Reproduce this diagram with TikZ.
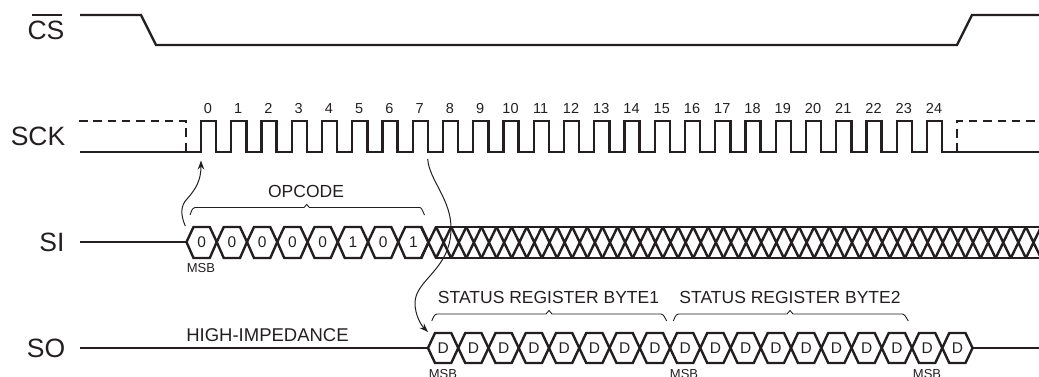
\documentclass[tikz,border=0pt]{standalone}
\usepackage{fontspec}
\setmainfont{Liberation Sans}
\usetikzlibrary{arrows.meta}
\definecolor{ink}{HTML}{231F20}
\newcommand{\fsz}[1]{\fontsize{#1pt}{#1pt}\selectfont}
\tikzset{
  wave/.style={draw=ink,line width=2.4pt,line join=miter},
  dashwave/.style={wave,dash pattern=on 8.5pt off 5.8pt},
  bracket/.style={draw=ink,line width=0.9pt},
  flow/.style={draw=ink,line width=1pt,-{Stealth[length=9pt,width=6.5pt]}},
  lab/.style={text=ink,inner sep=0pt,anchor=center},
  sig/.style={lab,font=\fsz{26.5}},
  clk/.style={lab,font=\fsz{14.5}},
  bit/.style={lab,font=\fsz{15.5}},
  msb/.style={lab,font=\fsz{13}},
  captxt/.style={lab,font=\fsz{17.5}}
}
\begin{document}
\begin{tikzpicture}[x=1pt,y=-1pt]
\useasboundingbox (0,0) rectangle (1039,377);
% labels
\node[sig] (lcs) at (46,30) {CS};
\draw[draw=ink,line width=1.3pt] (32,15) -- (62,15);
\node[sig] (lsck) at (38,136.5) {SCK};
\node[sig] (lsi) at (52,242) {SI};
\node[sig] (lso) at (46,348) {SO};
% CS
\draw[wave] (80,15) -- (141,15) -- (156,45) -- (957,45) -- (972,15) -- (1039,15);
% SCK
\draw[wave] (80,152) -- (201,152)
 \foreach \i in {0,...,24}{ -- ({201+30.25*\i},121) -- ({201+30.25*\i+15.12},121) -- ({201+30.25*\i+15.12},152) -- ({201+30.25*(\i+1)},152) } ;
\draw[dashwave] (79,121) -- (186,121) -- (186,152);
\draw[dashwave] (957,152) -- (957,121) -- (1039,121);
\draw[wave] (957,152) -- (1039,152);
% clock numbers
\foreach \i in {0,...,24}{ \node[clk] (n\i) at ({208+30.25*\i},108.5) {\i}; }
% SI
\draw[wave] (80,242) -- (186.5,242);
\foreach \i/\b in {0/0,1/0,2/0,3/0,4/0,5/1,6/0,7/1}{
  \pgfmathsetmacro{\xa}{186.5+30.25*\i}
  \pgfmathsetmacro{\xb}{\xa+30.25}
  \draw[wave] (\xa,242) -- (\xa+7,227) -- (\xb-7,227) -- (\xb,242) -- (\xb-7,258) -- (\xa+7,258) -- cycle;
  \node[bit] (si\i) at ({(\xa+\xb)/2},242.5) {\b};
}
% SI don't-care hatch
\begin{scope}
\clip (420,220) rectangle (1039,265);
\draw[wave] (435,227) -- (1045,227) (435,258) -- (1045,258);
\foreach \i in {0,...,40}{
  \pgfmathsetmacro{\xa}{428.5+15.125*\i}
  \draw[wave] (\xa-7.5,227) -- (\xa+7.5,258) (\xa-7.5,258) -- (\xa+7.5,227);
}
\end{scope}
% SO
\draw[wave] (80,348) -- (428,348);
\foreach \i in {0,...,17}{
  \pgfmathsetmacro{\xa}{428+30.25*\i}
  \pgfmathsetmacro{\xb}{\xa+30.25}
  \draw[wave] (\xa,348) -- (\xa+7,333) -- (\xb-7,333) -- (\xb,348) -- (\xb-7,363) -- (\xa+7,363) -- cycle;
  \node[bit] (so\i) at ({(\xa+\xb)/2},348.5) {D};
}
\draw[wave] (972.5,348) -- (1039,348);
% captions
\node[captxt] (op) at (306,191) {OPCODE};
\node[captxt] (b1) at (548.5,297) {STATUS REGISTER BYTE1};
\node[captxt] (b2) at (790,297) {STATUS REGISTER BYTE2};
\node[captxt,font=\fsz{18.5}] (hi) at (267.5,335) {HIGH-IMPEDANCE};
\node[msb] (m0) at (201,268) {MSB};
\node[msb] (m1) at (443,374) {MSB};
\node[msb] (m2) at (684,374) {MSB};
\node[msb] (m3) at (927,374) {MSB};
% brackets
\draw[bracket] (190,215) .. controls (191,212) and (192,208) .. (195,207.5) -- (304,207.5) -- (306.7,204.5) -- (309.5,207.5) -- (420,207.5) .. controls (422,208) and (423,212) .. (424.5,215);
\draw[bracket] (431.7,321) .. controls (433,318) and (434,314.5) .. (437,314) -- (546,314) -- (549,310.5) -- (552,314) -- (661,314) .. controls (664,314.5) and (665,318) .. (666.7,321);
\draw[bracket] (673.3,321) .. controls (674.5,318) and (675.5,314.5) .. (678.5,314) -- (787,314) -- (790,310.5) -- (793,314) -- (902.5,314) .. controls (905,314.5) and (906.5,318) .. (908.3,321);
% arrows
\coordinate (a1s) at (185.3,226);
\coordinate (a1e) at (201,160.5);
\draw[flow] (a1s) .. controls (180,214) and (181,205) .. (187,199) .. controls (196,189) and (201,180) .. (a1e);
\coordinate (a2s) at (427.7,159);
\coordinate (a2e) at (428,332);
\draw[flow] (a2s) .. controls (429,180) and (452,200) .. (451,230) .. controls (450,270) and (415,280) .. (415,303) .. controls (415,315) and (421,325) .. (a2e);
\end{tikzpicture}
\end{document}
